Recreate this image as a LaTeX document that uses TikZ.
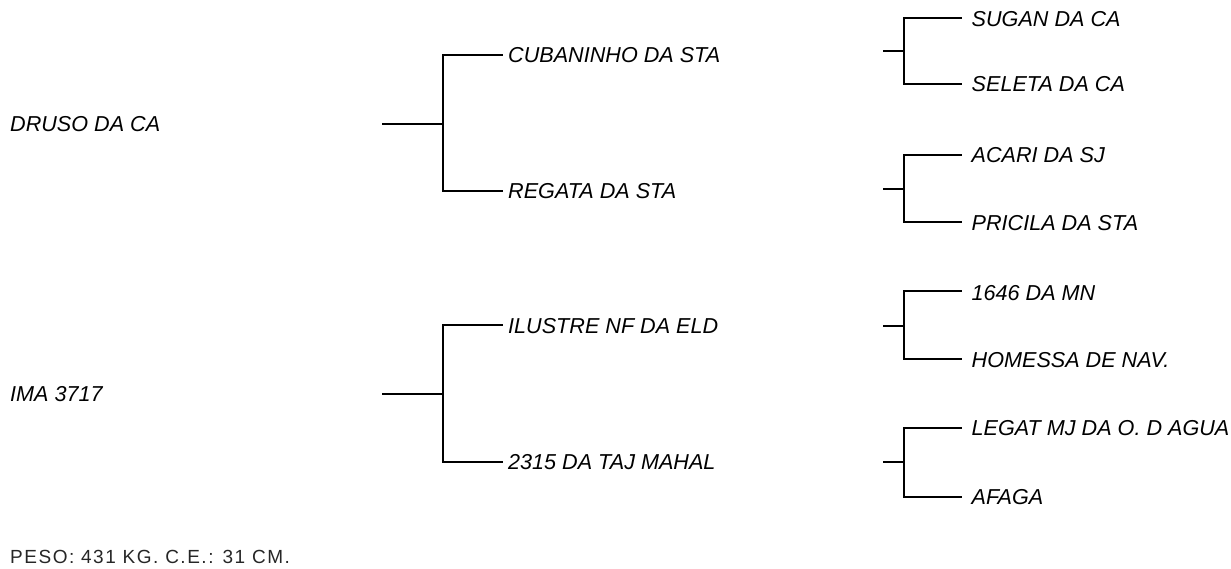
\documentclass[tikz,border=0pt]{standalone}
\usepackage{fontspec}
\setmainfont{Liberation Sans}
\newfontfamily\pesofont[LetterSpace=8]{Liberation Sans}
\begin{document}
\begin{tikzpicture}[x=1pt,y=-1pt,
  lbl/.style={anchor=base west,inner sep=0pt,font=\fontsize{21.6}{24}\selectfont\itshape},
  conn/.style={line width=2pt,line cap=rect,black}]
\useasboundingbox (0,0) rectangle (1231,569);
% level 1
\node[lbl] (a) at (10,131.5) {DRUSO DA CA};
\node[lbl] (b) at (10,401.5) {IMA 3717};
% level 2
\node[lbl] (a1) at (508,63) {CUBANINHO DA STA};
\node[lbl] (a2) at (508,199) {REGATA DA STA};
\node[lbl] (b1) at (508,333) {ILUSTRE NF DA ELD};
\node[lbl] (b2) at (508,469.5) {2315 DA TAJ MAHAL};
% level 3
\node[lbl] (a11) at (971.5,26.5) {SUGAN DA CA};
\node[lbl] (a12) at (971.5,92) {SELETA DA CA};
\node[lbl] (a21) at (971.5,163) {ACARI DA SJ};
\node[lbl] (a22) at (971.5,230.5) {PRICILA DA STA};
\node[lbl] (b11) at (971.5,300) {1646 DA MN};
\node[lbl] (b12) at (971.5,367) {HOMESSA DE NAV.};
\node[lbl] (b21) at (971.5,435) {LEGAT MJ DA O. D AGUA};
\node[lbl] (b22) at (971.5,504.5) {AFAGA};
% level 1 brackets
\coordinate (sa) at (383,124);
\coordinate (sb) at (383,394);
\draw[conn] (sa) -- (443,124);
\draw[conn] (501.5,55) -- (443,55) -- (443,191.5) -- (501.5,191.5);
\draw[conn] (sb) -- (443,394);
\draw[conn] (501.5,325) -- (443,325) -- (443,461.5) -- (501.5,461.5);
% level 2 brackets
\foreach \s/\t/\b in {51.5/18.5/84, 189.5/155/222.5, 326/291.5/359, 461.5/427.5/496.5}{
  \draw[conn] (883.5,\s) -- (904.3,\s);
  \draw[conn] (960.5,\t) -- (904.3,\t) -- (904.3,\b) -- (960.5,\b);
}
\node[anchor=base west,inner sep=0pt,text=black!85,font=\pesofont\fontsize{19}{22}\selectfont] (peso) at (10,563.5) {PESO: 431 KG. C.E.: 31 CM.};
\end{tikzpicture}
\end{document}
